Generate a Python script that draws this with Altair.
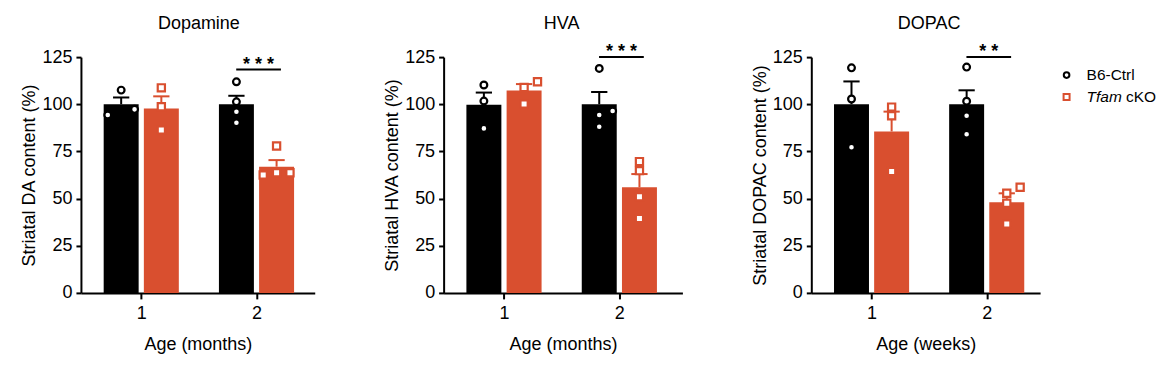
import altair as alt
import pandas as pd

RED = "#D94F2F"
BLACK = "#000000"
FONT = "Liberation Sans"

groups = ["B6-Ctrl", "Tfam cKO"]
bar_age = [1, 1, 2, 2]
bar_group = ["B6-Ctrl", "Tfam cKO", "B6-Ctrl", "Tfam cKO"]

panel_titles = ["Dopamine", "HVA", "DOPAC"]
y_titles = ["Striatal DA content (%)", "Striatal HVA content (%)", "Striatal DOPAC content (%)"]
x_titles = ["Age (months)", "Age (months)", "Age (weeks)"]

# order of bars: ctrl@1, cKO@1, ctrl@2, cKO@2
da_mean = [100.0, 97.8, 100.0, 66.9]
da_sem = [3.6, 6.4, 4.5, 3.5]
da_points = [[94.3, 107.5, 97.3], [108.7, 98.7, 86.3], [111.9, 101.3, 96.0, 90.2], [77.9, 62.5, 63.7, 63.7]]
da_slots = [[-1, 0, 1], [0, 0, 0], [0, 0, 0, 0], [0, -1, 0, 1]]

hva_mean = [99.7, 107.3, 100.0, 56.0]
hva_sem = [6.5, 3.4, 6.5, 7.0]
hva_points = [[110.2, 101.7, 87.2], [108.9, 111.9, 100.1], [119.0, 96.4, 94.3, 88.1], [69.6, 64.8, 51.0, 39.5]]
hva_slots = [[0, 0, 0], [0, 1, 0], [0, 1, 0, 0], [0, 0, 0, 0]]

dopac_mean = [100.0, 85.6, 100.0, 48.0]
dopac_sem = [12.1, 10.5, 7.4, 4.8]
dopac_points = [[119.3, 102.8, 77.2], [98.5, 93.9, 64.4], [119.7, 101.6, 93.9, 84.1], [52.8, 56.0, 47.5, 36.5]]
dopac_slots = [[0, 0, 0], [0, 0, 0], [0, 0, 0, 0], [0, 1, 0, 0]]

sig_y = [118.4, 125.0, 125.0]
sig_label = ["* * *", "* * *", "* *"]

y_ticks = [0, 25, 50, 75, 100, 125]

UNIT = 120.5          # px per age unit
OFF = 21 / UNIT       # bar centre offset from age tick
JIT = 14 / UNIT       # horizontal spread of points
CAP = 8.5 / UNIT      # half width of error-bar cap
widths = [234, 239, 229]
HEIGHT = 236

color_scale = alt.Scale(domain=groups, range=[BLACK, RED])


def panel(k, mean, sem, points, slots, width, legend=False):
    xmax = 0.52 + width / UNIT
    xscale = alt.Scale(domain=[0.52, xmax], nice=False, zero=False)
    xaxis = alt.Axis(values=[1, 2], format="d", title=x_titles[k], grid=False,
                     tickSize=6, labelPadding=6, titlePadding=13)
    yscale = alt.Scale(domain=[0, 125], nice=False)
    yaxis = alt.Axis(values=y_ticks, title=y_titles[k], grid=False,
                     tickSize=5, labelPadding=4, titlePadding=3)

    bars = pd.DataFrame({"age": bar_age, "group": bar_group, "mean": mean, "sem": sem})
    bars["top"] = bars["mean"] + bars["sem"]
    rows = []
    for i in range(4):
        for v, s in zip(points[i], slots[i]):
            rows.append({"age": bar_age[i], "group": bar_group[i], "value": v, "slot": s})
    pts = pd.DataFrame(rows)

    xc = f"datum.age + (datum.group == 'B6-Ctrl' ? {-OFF} : {OFF})"

    base = alt.Chart(bars).transform_calculate(xc=xc)
    bar_layer = base.mark_bar(width=35).encode(
        x=alt.X("xc:Q", scale=xscale, axis=xaxis),
        y=alt.Y("mean:Q", scale=yscale, axis=yaxis),
        color=alt.Color("group:N", scale=color_scale, legend=None),
    )
    err = base.mark_rule(strokeWidth=2).encode(
        x=alt.X("xc:Q", scale=xscale, axis=xaxis),
        y=alt.Y("mean:Q", scale=yscale, axis=yaxis),
        y2="top:Q",
        color=alt.Color("group:N", scale=color_scale, legend=None),
    )
    cap = base.transform_calculate(xl=f"datum.xc - {CAP}", xr=f"datum.xc + {CAP}").mark_rule(strokeWidth=2).encode(
        x=alt.X("xl:Q", scale=xscale, axis=xaxis),
        x2="xr:Q",
        y=alt.Y("top:Q", scale=yscale, axis=yaxis),
        color=alt.Color("group:N", scale=color_scale, legend=None),
    )
    pbase = alt.Chart(pts).transform_calculate(xc=xc).transform_calculate(xp=f"datum.xc + datum.slot * {JIT}")
    circ = pbase.transform_filter("datum.group == 'B6-Ctrl'").mark_point(
        shape="circle", filled=True, fill="white", stroke=BLACK, strokeWidth=2.2, size=46, opacity=1
    ).encode(
        x=alt.X("xp:Q", scale=xscale, axis=xaxis),
        y=alt.Y("value:Q", scale=yscale, axis=yaxis),
    )
    sq = pbase.transform_filter("datum.group == 'Tfam cKO'").mark_point(
        shape="square", filled=True, fill="white", stroke=RED, strokeWidth=2.2, size=52, opacity=1
    ).encode(
        x=alt.X("xp:Q", scale=xscale, axis=xaxis),
        y=alt.Y("value:Q", scale=yscale, axis=yaxis),
    )
    sig_df = pd.DataFrame({"x1": [2 - 0.176], "x2": [2 + 0.212], "y": [sig_y[k]], "label": [sig_label[k]]})
    sig_line = alt.Chart(sig_df).mark_rule(strokeWidth=2, color=BLACK).encode(
        x=alt.X("x1:Q", scale=xscale, axis=xaxis), x2="x2:Q",
        y=alt.Y("y:Q", scale=yscale, axis=yaxis),
    )
    sig_text = alt.Chart(sig_df).transform_calculate(xm="(datum.x1 + datum.x2) / 2").mark_text(
        font=FONT, fontSize=18, fontWeight="bold", baseline="alphabetic", align="center", dy=0, color=BLACK
    ).encode(
        x=alt.X("xm:Q", scale=xscale, axis=xaxis),
        y=alt.Y("y:Q", scale=yscale, axis=yaxis),
        text="label:N",
    )
    title_df = pd.DataFrame({"t": [panel_titles[k]], "xm": [1.5]})
    title = alt.Chart(title_df).mark_text(
        font=FONT, fontSize=18, baseline="alphabetic", align="center", color=BLACK
    ).encode(
        x=alt.X("xm:Q", scale=xscale, axis=xaxis),
        y=alt.value(-28),
        text="t:N",
    )
    layers = [bar_layer, err, cap, circ, sq, sig_line, sig_text, title]
    if legend:
        lg = pd.DataFrame({"k": [0]})
        layers += [
            alt.Chart(lg).mark_point(shape="circle", filled=True, fill="white", stroke=BLACK,
                                     strokeWidth=2, size=32, opacity=1).encode(
                x=alt.value(255.5), y=alt.value(18)),
            alt.Chart(lg).mark_point(shape="square", filled=True, fill="white", stroke=RED,
                                     strokeWidth=2, size=36, opacity=1).encode(
                x=alt.value(255.5), y=alt.value(40)),
            alt.Chart(lg).mark_text(font=FONT, fontSize=15.5, align="left", baseline="middle",
                                    color=BLACK).encode(
                x=alt.value(275.5), y=alt.value(18), text=alt.value(groups[0])),
            alt.Chart(lg).mark_text(font=FONT, fontSize=15.5, align="left", baseline="middle",
                                    fontStyle="italic", color=BLACK).encode(
                x=alt.value(275.5), y=alt.value(40), text=alt.value(groups[1].split(" ")[0])),
            alt.Chart(lg).mark_text(font=FONT, fontSize=15.5, align="left", baseline="middle",
                                    color=BLACK).encode(
                x=alt.value(315), y=alt.value(40), text=alt.value(groups[1].split(" ")[1])),
        ]
    return alt.layer(*layers).properties(width=width, height=HEIGHT)


p1 = panel(0, da_mean, da_sem, da_points, da_slots, widths[0])
p2 = panel(1, hva_mean, hva_sem, hva_points, hva_slots, widths[1])
p3 = panel(2, dopac_mean, dopac_sem, dopac_points, dopac_slots, widths[2], legend=True)

chart = alt.hconcat(p1, p2, p3, spacing=129, bounds="flush").properties(
    padding={"left": 12, "top": 7, "right": 0, "bottom": 0}
).configure_view(stroke=None).configure_axis(
    domainColor=BLACK, domainWidth=2, tickColor=BLACK, tickWidth=2,
    labelFont=FONT, labelFontSize=18, labelColor=BLACK,
    titleFont=FONT, titleFontSize=18, titleFontWeight="normal", titleColor=BLACK,
)

chart.save("out.html", embed_options={"renderer": "svg", "actions": False})
